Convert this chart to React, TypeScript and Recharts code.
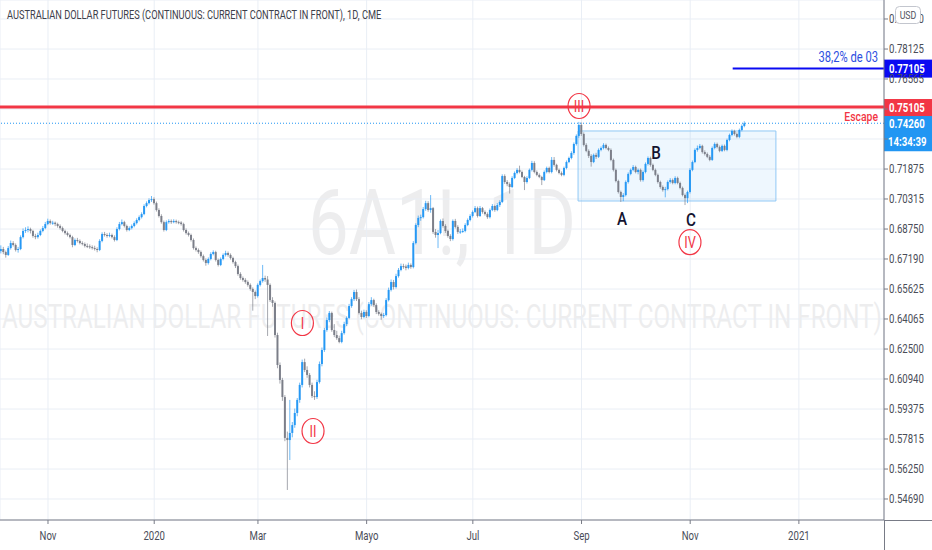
import React from 'react';
import {
  ComposedChart,
  Bar,
  XAxis,
  YAxis,
  CartesianGrid,
  ReferenceLine,
  ReferenceArea,
  ReferenceDot,
} from 'recharts';

// Daily candles [open, high, low, close] in 1/10000 USD (6A1!, CME)
const oct2019 = [
  [6760, 6790, 6748, 6771], [6771, 6782, 6744, 6755], [6755, 6763, 6726, 6740], [6740, 6786, 6735, 6776],
  [6776, 6815, 6768, 6802], [6802, 6812, 6784, 6792], [6792, 6800, 6758, 6766], [6766, 6782, 6752, 6771],
  [6771, 6842, 6765, 6833], [6833, 6878, 6826, 6865], [6865, 6884, 6855, 6870], [6870, 6889, 6858, 6875],
  [6875, 6882, 6852, 6865], [6865, 6871, 6830, 6839], [6839, 6850, 6822, 6833], [6833, 6856, 6825, 6844],
  [6844, 6873, 6838, 6865], [6865, 6891, 6858, 6880], [6880, 6912, 6874, 6901],
];
const nov2019 = [
  [6901, 6929, 6895, 6917], [6917, 6925, 6898, 6906], [6906, 6918, 6897, 6908], [6908, 6914, 6890, 6901],
  [6901, 6908, 6882, 6891], [6891, 6899, 6872, 6880], [6880, 6888, 6858, 6865], [6865, 6872, 6846, 6854],
  [6854, 6862, 6836, 6844], [6844, 6851, 6826, 6833], [6833, 6840, 6780, 6792], [6792, 6826, 6786, 6818],
  [6818, 6829, 6805, 6813], [6813, 6821, 6795, 6802], [6802, 6811, 6790, 6797], [6797, 6805, 6779, 6787],
  [6787, 6800, 6776, 6785], [6785, 6795, 6772, 6781], [6781, 6790, 6768, 6776], [6776, 6788, 6763, 6771],
  [6771, 6780, 6754, 6766],
];
const dec2019 = [
  [6766, 6822, 6760, 6813], [6813, 6858, 6806, 6849], [6849, 6860, 6836, 6844], [6844, 6853, 6830, 6839],
  [6839, 6856, 6832, 6844], [6844, 6851, 6826, 6833], [6833, 6842, 6810, 6818], [6818, 6884, 6812, 6875],
  [6875, 6912, 6868, 6901], [6901, 6925, 6894, 6911], [6911, 6918, 6883, 6891], [6891, 6898, 6862, 6870],
  [6870, 6889, 6864, 6880], [6880, 6899, 6873, 6891], [6891, 6915, 6884, 6906], [6906, 6931, 6899, 6922],
  [6922, 6946, 6915, 6937], [6937, 6962, 6930, 6953], [6953, 7004, 6947, 6995], [6995, 7019, 6988, 7010],
  [7010, 7035, 7003, 7026], [7026, 7047, 7016, 7031],
];
const jan2020 = [
  [7031, 7040, 7002, 7010], [7010, 7018, 6966, 6974], [6974, 6983, 6935, 6943], [6943, 6952, 6903, 6911],
  [6911, 6919, 6862, 6870], [6870, 6920, 6864, 6911], [6911, 6926, 6903, 6917], [6917, 6925, 6902, 6911],
  [6911, 6926, 6905, 6917], [6917, 6924, 6903, 6911], [6911, 6919, 6900, 6909], [6909, 6916, 6893, 6901],
  [6901, 6908, 6862, 6870], [6870, 6878, 6846, 6854], [6854, 6862, 6836, 6844], [6844, 6851, 6810, 6818],
  [6818, 6826, 6768, 6776], [6776, 6784, 6758, 6766], [6766, 6774, 6746, 6755], [6755, 6763, 6726, 6734],
  [6734, 6742, 6706, 6714], [6714, 6722, 6684, 6698],
];
const feb2020 = [
  [6698, 6727, 6690, 6719], [6719, 6754, 6712, 6745], [6745, 6764, 6738, 6755], [6755, 6762, 6706, 6714],
  [6714, 6721, 6680, 6688], [6688, 6727, 6682, 6719], [6719, 6748, 6712, 6740], [6740, 6762, 6732, 6750],
  [6750, 6758, 6731, 6740], [6740, 6748, 6716, 6724], [6724, 6731, 6695, 6703], [6703, 6710, 6672, 6682],
  [6682, 6690, 6632, 6641], [6641, 6650, 6611, 6620], [6620, 6628, 6601, 6610], [6610, 6619, 6590, 6599],
  [6599, 6607, 6575, 6584], [6584, 6592, 6554, 6563], [6563, 6571, 6450, 6547], [6547, 6555, 6510, 6526],
];
const mar2020 = [
  [6526, 6592, 6518, 6584], [6584, 6612, 6576, 6604], [6604, 6688, 6596, 6620], [6620, 6632, 6600, 6612],
  [6612, 6630, 6318, 6584], [6584, 6592, 6495, 6505], [6505, 6520, 6470, 6490], [6490, 6498, 6310, 6323],
  [6323, 6335, 6150, 6167], [6167, 6180, 6070, 6089], [6089, 6100, 5980, 6000], [6000, 6010, 5770, 5787],
  [5787, 5820, 5516, 5776], [5776, 5985, 5672, 5813], [5813, 5870, 5790, 5854], [5854, 5940, 5840, 5917],
  [5917, 5995, 5900, 5985], [5985, 6075, 5970, 6063], [6063, 6195, 6050, 6182], [6182, 6200, 6130, 6141],
  [6141, 6160, 6100, 6115], [6115, 6125, 6050, 6063],
];
const apr2020 = [
  [6063, 6075, 5995, 6005], [6005, 6030, 5985, 6000], [6000, 6090, 5990, 6078], [6078, 6185, 6070, 6172],
  [6172, 6258, 6160, 6245], [6245, 6360, 6235, 6349], [6349, 6415, 6340, 6401], [6401, 6448, 6390, 6438],
  [6438, 6445, 6340, 6349], [6349, 6380, 6312, 6323], [6323, 6345, 6298, 6307], [6307, 6320, 6280, 6287],
  [6287, 6345, 6280, 6333], [6333, 6392, 6325, 6380], [6380, 6420, 6370, 6412], [6412, 6485, 6405, 6474],
  [6474, 6520, 6465, 6510], [6510, 6558, 6500, 6547], [6547, 6560, 6500, 6510], [6510, 6520, 6430, 6438],
  [6438, 6450, 6405, 6417], [6417, 6455, 6410, 6443],
];
const may2020 = [
  [6443, 6452, 6412, 6422], [6422, 6495, 6415, 6484], [6484, 6520, 6475, 6505], [6505, 6512, 6470, 6479],
  [6479, 6488, 6432, 6443], [6443, 6452, 6424, 6433], [6433, 6440, 6402, 6422], [6422, 6438, 6412, 6427],
  [6427, 6515, 6420, 6505], [6505, 6570, 6498, 6558], [6558, 6612, 6550, 6599], [6599, 6610, 6560, 6573],
  [6573, 6642, 6565, 6630], [6630, 6672, 6622, 6662], [6662, 6695, 6655, 6682], [6682, 6694, 6668, 6680],
  [6680, 6690, 6660, 6672], [6672, 6700, 6665, 6688], [6688, 6696, 6668, 6677], [6677, 6812, 6670, 6802],
  [6802, 6905, 6795, 6896],
];
const jun2020 = [
  [6896, 6945, 6885, 6933], [6933, 6950, 6918, 6937], [6937, 6990, 6930, 6979], [6979, 7022, 6970, 7010],
  [7010, 7020, 6965, 6974], [6974, 7052, 6960, 6984], [6984, 6990, 6850, 6860], [6860, 6875, 6830, 6844],
  [6844, 6870, 6776, 6854], [6854, 6925, 6848, 6917], [6917, 6930, 6882, 6891], [6891, 6900, 6855, 6865],
  [6865, 6872, 6830, 6839], [6839, 6848, 6812, 6823], [6823, 6925, 6815, 6917], [6917, 6928, 6878, 6886],
  [6886, 6895, 6850, 6860], [6860, 6875, 6850, 6862], [6862, 6878, 6855, 6865], [6865, 6905, 6858, 6896],
  [6896, 6930, 6890, 6922], [6922, 6952, 6915, 6943],
];
const jul2020 = [
  [6943, 6972, 6935, 6964], [6964, 6995, 6958, 6984], [6984, 6992, 6935, 6943], [6943, 6995, 6938, 6984],
  [6984, 6990, 6955, 6964], [6964, 6972, 6945, 6953], [6953, 6962, 6928, 6937], [6937, 6982, 6930, 6974],
  [6974, 7005, 6968, 6995], [6995, 7002, 6965, 6974], [6974, 7010, 6968, 7000], [7000, 7025, 6990, 7016],
  [7016, 7160, 7010, 7151], [7151, 7160, 7110, 7120], [7120, 7130, 7098, 7109], [7109, 7118, 7060, 7094],
  [7094, 7150, 7088, 7141], [7141, 7175, 7135, 7167], [7167, 7192, 7160, 7183], [7183, 7205, 7165, 7172],
  [7172, 7180, 7140, 7146], [7146, 7152, 7078, 7120], [7120, 7150, 7112, 7141],
];
const aug2020 = [
  [7141, 7190, 7135, 7183], [7183, 7230, 7175, 7219], [7219, 7228, 7165, 7172], [7172, 7180, 7150, 7157],
  [7157, 7165, 7140, 7146], [7146, 7152, 7104, 7130], [7130, 7180, 7125, 7172], [7172, 7200, 7165, 7193],
  [7193, 7200, 7165, 7172], [7172, 7250, 7165, 7235], [7235, 7250, 7200, 7209], [7209, 7215, 7175, 7183],
  [7183, 7190, 7160, 7167], [7167, 7175, 7150, 7157], [7157, 7200, 7150, 7193], [7193, 7232, 7186, 7224],
  [7224, 7252, 7218, 7245], [7245, 7280, 7238, 7271], [7271, 7326, 7262, 7318], [7318, 7368, 7310, 7360],
  [7360, 7433, 7350, 7417],
];
const sep2020 = [
  [7417, 7430, 7360, 7370], [7370, 7378, 7305, 7313], [7313, 7322, 7275, 7282], [7282, 7290, 7245, 7256],
  [7256, 7265, 7200, 7224], [7224, 7268, 7218, 7261], [7261, 7272, 7240, 7251], [7251, 7295, 7245, 7287],
  [7287, 7305, 7280, 7297], [7297, 7322, 7290, 7313], [7313, 7320, 7290, 7297], [7297, 7305, 7280, 7287],
  [7287, 7295, 7228, 7235], [7235, 7242, 7175, 7183], [7183, 7190, 7118, 7125], [7125, 7132, 7060, 7068],
  [7068, 7075, 7016, 7042], [7042, 7062, 7020, 7052], [7052, 7128, 7045, 7120], [7120, 7170, 7112, 7162],
  [7162, 7190, 7155, 7183], [7183, 7208, 7176, 7198],
];
const oct2020 = [
  [7198, 7205, 7165, 7172], [7172, 7190, 7160, 7183], [7183, 7190, 7122, 7130], [7130, 7180, 7122, 7172],
  [7172, 7222, 7165, 7214], [7214, 7253, 7206, 7245], [7245, 7252, 7200, 7209], [7209, 7216, 7176, 7183],
  [7183, 7190, 7150, 7157], [7157, 7164, 7112, 7120], [7120, 7127, 7085, 7094], [7094, 7102, 7070, 7078],
  [7078, 7095, 7040, 7083], [7083, 7128, 7076, 7120], [7120, 7140, 7112, 7130], [7130, 7138, 7108, 7115],
  [7115, 7150, 7108, 7141], [7141, 7148, 7108, 7115], [7115, 7122, 7082, 7089], [7089, 7096, 7045, 7052],
  [7052, 7060, 7000, 7036], [7036, 7075, 7010, 7068],
];
const nov2020 = [
  [7068, 7192, 7060, 7183], [7183, 7232, 7176, 7224], [7224, 7295, 7218, 7287], [7287, 7310, 7278, 7297],
  [7297, 7318, 7290, 7308], [7308, 7314, 7268, 7276], [7276, 7285, 7258, 7266], [7266, 7274, 7244, 7251],
  [7251, 7260, 7228, 7235], [7235, 7305, 7230, 7297], [7297, 7326, 7290, 7318], [7318, 7325, 7295, 7302],
  [7302, 7310, 7275, 7282], [7282, 7315, 7276, 7308], [7308, 7315, 7280, 7287], [7287, 7346, 7280, 7339],
  [7339, 7372, 7332, 7365], [7365, 7394, 7358, 7386], [7386, 7392, 7362, 7370], [7370, 7378, 7348, 7355],
  [7355, 7398, 7348, 7391],
];
const dec2020 = [
  [7391, 7420, 7384, 7412], [7412, 7436, 7405, 7426],
];

const months = [oct2019, nov2019, dec2019, jan2020, feb2020, mar2020, apr2020, may2020, jun2020, jul2020, aug2020, sep2020, oct2020, nov2020, dec2020];
const firstBarIndex = -19; // trading-day index, 0 = 1 Nov 2019

// time axis (trading-day index of first bar of the month)
const timeTicks = [0, 43, 85, 129, 172, 216, 260, 304];
const timeLabels = ['Nov', '2020', 'Mar', 'Mayo', 'Jul', 'Sep', 'Nov', '2021'];
const xDomain = [-19.43, 338.46];

// price axis
const priceTicks = [0.5469, 0.5625, 0.57815, 0.59375, 0.6094, 0.625, 0.64065, 0.65625, 0.6719, 0.6875, 0.70315, 0.71875, 0.7344, 0.75, 0.76565, 0.78125, 0.7969];
const coveredTicks = [0.7344, 0.75];
const yDomain = [0.53596, 0.80679];

// drawings
const escapeLevel = 0.75105;
const escapeText = 'Escape';
const fibLevel = 0.77105;
const fibStart = 277.2;
const fibText = '38,2% de 03';
const clockText = '14:34:39';
const boxI = [214.6, 294.7];
const boxP = [0.70211, 0.73857];
const waveLabels = [
  { t: 'I', i: 103.0, p: 0.63857 },
  { t: 'II', i: 107.3, p: 0.58232 },
  { t: 'III', i: 215.0, p: 0.75159 },
  { t: 'IV', i: 259.9, p: 0.68067 },
];
const abcLabels = [
  { t: 'A', i: 232.4, p: 0.69325 },
  { t: 'B', i: 246.2, p: 0.72763 },
  { t: 'C', i: 260.3, p: 0.69273 },
];
const titleText = 'AUSTRALIAN DOLLAR FUTURES (CONTINUOUS: CURRENT CONTRACT IN FRONT), 1D, CME';
const watermarkBig = '6A1!, 1D';
const watermarkSmall = 'AUSTRALIAN DOLLAR FUTURES (CONTINUOUS: CURRENT CONTRACT IN FRONT)';

const candles = months.flat().map((d, k) => ({
  i: firstBarIndex + k,
  o: d[0] / 10000,
  h: d[1] / 10000,
  l: d[2] / 10000,
  c: d[3] / 10000,
  range: [d[2] / 10000, d[1] / 10000],
}));
const lastClose = candles[candles.length - 1].c;

const UP = '#2196f3';
const DOWN = '#787b86';
const RED = '#f23645';
const DEEPBLUE = '#0a0af2';
const FONT = 'Roboto, sans-serif';
const SX = 0.8;

const T = ({ x, y, size, fill, anchor = 'start', weight = 400, sx = SX, children, opacity }: any) => (
  <text
    transform={`translate(${x},${y}) scale(${sx},1)`}
    x={0}
    y={0}
    fontSize={size}
    fill={fill}
    textAnchor={anchor}
    fontWeight={weight}
    fontFamily={FONT}
    opacity={opacity}
  >
    {children}
  </text>
);

const Candle = (props: any) => {
  const { x, y, width, height, payload } = props;
  if (!payload) return <g />;
  const { o, h, l, c } = payload;
  const top = Math.min(y, y + height);
  const span = Math.abs(height);
  const k = h > l ? span / (h - l) : 0;
  const cx = x + width / 2;
  const color = c >= o ? UP : DOWN;
  const bTop = top + (h - Math.max(o, c)) * k;
  const bBot = top + (h - Math.min(o, c)) * k;
  return (
    <g>
      <line x1={cx} x2={cx} y1={top} y2={top + span} stroke={color} strokeWidth={1} opacity={0.65} />
      <rect x={cx - 1} y={bTop} width={2} height={Math.max(1, bBot - bTop)} fill={color} opacity={0.95} />
    </g>
  );
};

const XTick = (p: any) => {
  const idx = timeTicks.indexOf(p.payload.value);
  return (
    <T x={p.x} y={p.y + 14} size={12} fill="#4a4d58" anchor="middle">
      {idx >= 0 ? timeLabels[idx] : ''}
    </T>
  );
};

const YTick = (p: any) => {
  const v = p.payload.value;
  if (coveredTicks.some((c) => Math.abs(c - v) < 1e-6)) return <g />;
  return (
    <T x={p.x - 1} y={p.y + 4} size={12} fill="#4a4d58">
      {Number(v).toFixed(5)}
    </T>
  );
};

const EscapeLabel = (props: any) => {
  const vb = props.viewBox || { x: 0, y: 0, width: 884 };
  const right = vb.x + vb.width;
  return (
    <g>
      <T x={right - 6} y={vb.y + 14} size={13} fill={RED} anchor="end" weight={500}>{escapeText}</T>
      <rect x={right} y={vb.y - 8} width={48} height={17} fill={RED} />
      <T x={right + 5} y={vb.y + 4.5} size={12} fill="#fff" weight={700}>{escapeLevel.toFixed(5)}</T>
    </g>
  );
};

const FibLabel = (props: any) => {
  const vb = props.viewBox || { x: 0, y: 0, width: 884 };
  const right = vb.x + vb.width;
  return (
    <g>
      <T x={right - 6} y={vb.y - 7} size={14} fill="#2d4fe0" anchor="end">{fibText}</T>
      <rect x={right} y={vb.y - 9} width={48} height={18} fill={DEEPBLUE} />
      <T x={right + 5} y={vb.y + 4.5} size={12} fill="#fff" weight={700}>{fibLevel.toFixed(5)}</T>
    </g>
  );
};

const LastLabel = (props: any) => {
  const vb = props.viewBox || { x: 0, y: 0, width: 884 };
  const right = vb.x + vb.width;
  return (
    <g>
      <rect x={right} y={vb.y - 9} width={48} height={37} fill={UP} />
      <T x={right + 5} y={vb.y + 4.5} size={12} fill="#fff" weight={700}>{lastClose.toFixed(5)}</T>
      <T x={right + 4} y={vb.y + 23} size={12} fill="#fff" weight={700}>{clockText}</T>
    </g>
  );
};

const waveShape = (t: string) => (p: any) => (
  <g>
    <ellipse cx={p.cx} cy={p.cy} rx={11} ry={12.5} fill="none" stroke={RED} strokeWidth={1.2} />
    <T x={p.cx} y={p.cy + 6} size={17} fill={RED} anchor="middle" sx={0.75}>{t}</T>
  </g>
);

const letterShape = (t: string) => (p: any) => (
  <T x={p.cx} y={p.cy + 7} size={19} fill="#131330" anchor="middle" weight={500} sx={0.8}>{t}</T>
);

export default function App() {
  return (
    <div style={{ position: 'absolute', left: 0, top: 0, width: 932, height: 550, background: '#ffffff', overflow: 'hidden' }}>
      <svg width={932} height={550} style={{ position: 'absolute', left: 0, top: 0 }}>
        <text
          x={442}
          y={254}
          fontSize={90}
          fontFamily={FONT}
          textAnchor="middle"
          fill="#787b86"
          opacity={0.13}
          textLength={268}
          lengthAdjust="spacingAndGlyphs"
        >
          {watermarkBig}
        </text>
        <text
          x={442}
          y={328}
          fontSize={34}
          fontFamily={FONT}
          textAnchor="middle"
          fill="#787b86"
          opacity={0.13}
          textLength={880}
          lengthAdjust="spacingAndGlyphs"
        >
          {watermarkSmall}
        </text>
      </svg>
      <div style={{ position: 'absolute', left: 0, top: 0 }}>
        <ComposedChart width={932} height={550} data={candles} margin={{ top: 0, right: 0, bottom: 0, left: 0 }}>
          <CartesianGrid stroke="#e9eef5" strokeWidth={1} />
          <XAxis
            type="number"
            dataKey="i"
            domain={xDomain}
            ticks={timeTicks}
            interval={0}
            allowDataOverflow
            height={30}
            tick={XTick}
            tickSize={4}
            tickLine={{ stroke: '#787b86' }}
            axisLine={{ stroke: '#787b86' }}
          />
          <YAxis
            type="number"
            orientation="right"
            domain={yDomain}
            ticks={priceTicks}
            interval={0}
            allowDataOverflow
            width={48}
            tick={YTick}
            tickSize={4}
            tickLine={{ stroke: '#787b86' }}
            axisLine={{ stroke: '#787b86' }}
          />
          <ReferenceArea
            x1={boxI[0]}
            x2={boxI[1]}
            y1={boxP[0]}
            y2={boxP[1]}
            fill="#2196f3"
            fillOpacity={0.08}
            stroke="#90c8f5"
            strokeWidth={1}
          />
          <Bar dataKey="range" barSize={2} shape={Candle} isAnimationActive={false} />
          <ReferenceLine y={lastClose} stroke={UP} strokeDasharray="1 2" strokeWidth={1} label={LastLabel} />
          <ReferenceLine y={escapeLevel} stroke={RED} strokeWidth={3} label={EscapeLabel} />
          <ReferenceLine
            segment={[{ x: fibStart, y: fibLevel }, { x: xDomain[1], y: fibLevel }]}
            stroke={DEEPBLUE}
            strokeWidth={2}
            label={FibLabel}
          />
          {waveLabels.map((w) => (
            <ReferenceDot key={w.t} x={w.i} y={w.p} r={11} shape={waveShape(w.t)} />
          ))}
          {abcLabels.map((w) => (
            <ReferenceDot key={w.t} x={w.i} y={w.p} r={0} shape={letterShape(w.t)} />
          ))}
        </ComposedChart>
      </div>
      <svg width={932} height={550} style={{ position: 'absolute', left: 0, top: 0, pointerEvents: 'none' }}>
        <line x1={884} x2={932} y1={520.5} y2={520.5} stroke="#787b86" />
        <line x1={884.5} x2={884.5} y1={520} y2={550} stroke="#787b86" />
        <T x={7} y={19} size={12.5} fill="#3d404b" sx={0.74}>{titleText}</T>
        <rect x={895.5} y={6.5} width={25} height={17} rx={4} fill="#ffffff" stroke="#c3c6ce" />
        <T x={908} y={19} size={11} fill="#50535e" anchor="middle">USD</T>
      </svg>
    </div>
  );
}
